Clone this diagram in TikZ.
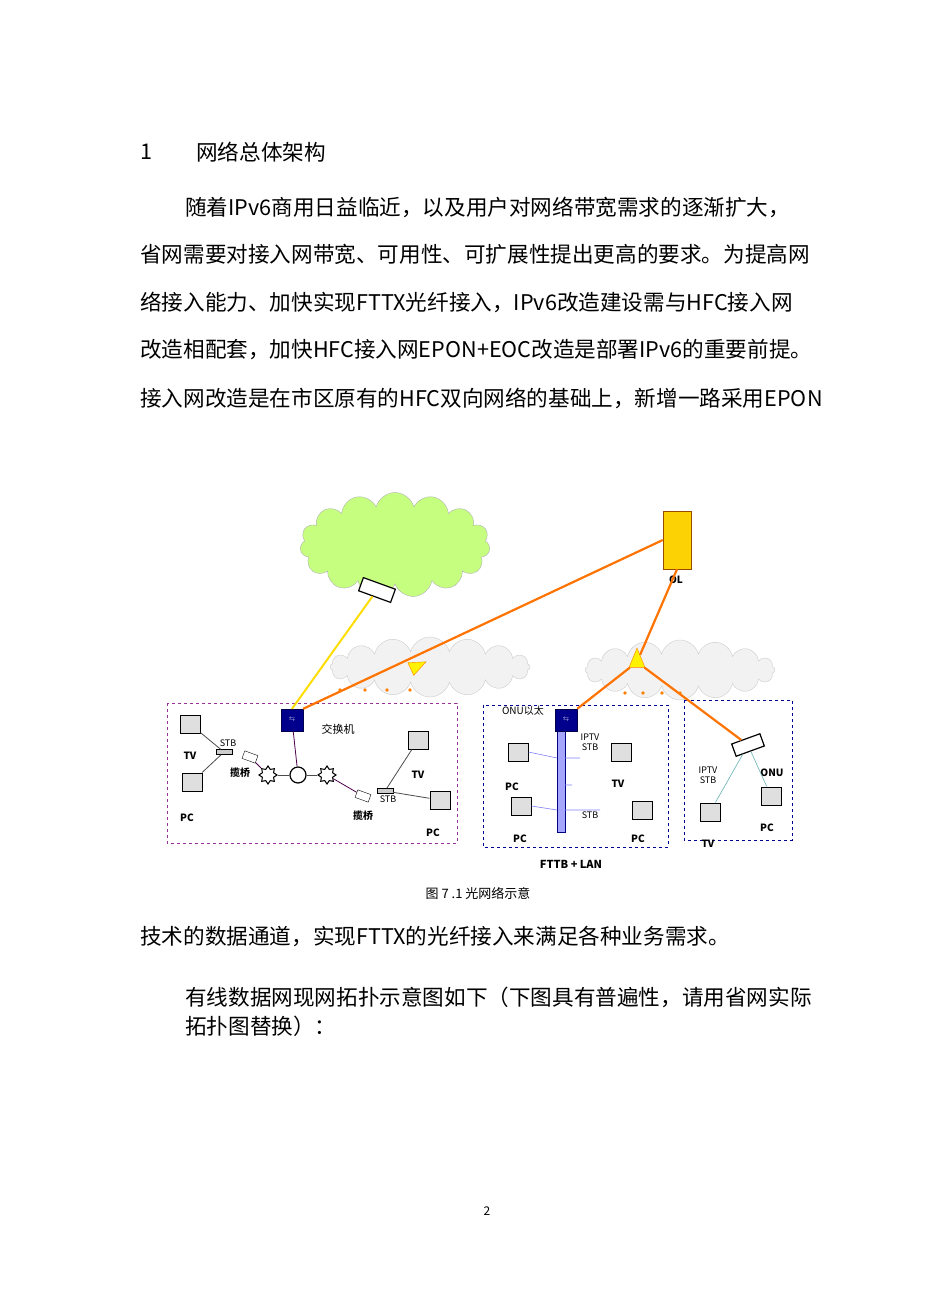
\documentclass[tikz,border=0pt]{standalone}
\usepackage{fontspec}
\setmainfont{Noto Sans CJK SC}
\usetikzlibrary{shapes.symbols,shapes.geometric}
\begin{document}
\begin{tikzpicture}[x=1pt,y=-1pt,
 body/.style={anchor=west,inner sep=0,font=\fontsize{21.6}{22}\selectfont},
 lbl/.style={inner sep=0,font=\fontsize{10}{10}\selectfont\bfseries},
 cloudg/.style={cloud,cloud puffs=16,draw=gray!40,fill=gray!10,inner sep=0,aspect=3},
 mon/.style={draw=black,fill=gray!25,line width=1pt,minimum width=20pt,minimum height=18pt,inner sep=0},
 sw/.style={fill=blue!55!black,minimum size=22pt,inner sep=0,draw=blue!30!black,text=white,font=\tiny,align=center},
 orl/.style={draw=orange!90!red,line width=2.2pt},
 dbox/.style={dashed,line width=1pt},
 thin/.style={draw=black!70,line width=0.8pt}]
\useasboundingbox (0,0) rectangle (950,1316);
\fill[white] (0,0) rectangle (950,1316);
% text
\node[body] (h1) at (140,152) {1};
\node[body] (h2) at (196,152) {网络总体架构};
\node[body] (p1) at (185,207) {随着IPv6商用日益临近，以及用户对网络带宽需求的逐渐扩大，};
\node[body] (p2) at (140,254) {省网需要对接入网带宽、可用性、可扩展性提出更高的要求。为提高网};
\node[body] (p3) at (140,302) {络接入能力、加快实现FTTX光纤接入，IPv6改造建设需与HFC接入网};
\node[body] (p4) at (140,350) {改造相配套，加快HFC接入网EPON+EOC改造是部署IPv6的重要前提。};
\node[body] (p5) at (140,398) {接入网改造是在市区原有的HFC双向网络的基础上，新增一路采用EPON};
\node[body] (p6) at (140,936) {技术的数据通道，实现FTTX的光纤接入来满足各种业务需求。};
\node[body] (p7) at (185,997) {有线数据网现网拓扑示意图如下（下图具有普遍性，请用省网实际};
\node[body] (p8) at (185,1026) {拓扑图替换）：};
\node[inner sep=0,font=\fontsize{12}{12}\selectfont] (pg) at (487,1211) {2};
% clouds
\node[cloud,cloud puffs=15,aspect=1.9,draw=gray!60,fill=green!45!yellow!50,minimum width=190pt,minimum height=105pt,inner sep=0] (gc) at (395,545) {};
\node[cloudg,minimum width=200pt,minimum height=60pt] (c1) at (430,667) {};
\node[cloudg,minimum width=190pt,minimum height=60pt] (c2) at (680,670) {};
% devices
\node[draw,line width=1.2pt,fill=white,minimum width=34pt,minimum height=14pt,rotate=-20,inner sep=0] (rt) at (377,590) {};
\node[draw=orange!60!black,fill=yellow!70!orange,minimum width=28pt,minimum height=58pt,inner sep=0] (olt) at (677,540) {};
\node[lbl] (oltl) at (676,580) {OL};
% boxes
\draw[dbox,draw=violet!80] (167,703) rectangle (457,843);
\draw[dbox,draw=blue!60!black] (483,705) rectangle (668,847);
\draw[dbox,draw=blue!60!black] (684,700) rectangle (792,840);
% switches
\node[sw] (s1) at (292,720) {$\leftarrow$\\[-4pt]$\rightarrow$};
\node[lbl,font=\fontsize{11}{11}\selectfont] (s1l) at (338,729) {交换机};
\fill[blue!35,draw=blue!50!black] (557,728) rectangle (565,832);
\node[sw] (s2) at (566,720) {$\leftarrow$\\[-4pt]$\rightarrow$};
\node[lbl,font=\fontsize{10}{10}\selectfont] (s2l) at (523,711) {ONU以太};
\node[draw,line width=1.2pt,fill=white,minimum width=30pt,minimum height=13pt,rotate=20,inner sep=0] (onu) at (748,745) {};
\node[lbl] (onul) at (772,773) {ONU};
% links
\draw[draw=yellow!80!orange,line width=2pt] (s1.north) -- (rt);
\draw[orl] (s1.north east) -- (olt.west);
\node[isosceles triangle,fill=yellow,draw=orange,minimum size=14pt,inner sep=0,rotate=25] (a1) at (415,667) {};
\node[isosceles triangle,fill=yellow,draw=orange,minimum size=16pt,inner sep=0,rotate=90] (sp) at (637,662) {};
\draw[orl] (olt.south) -- (sp);
\draw[orl] (sp) -- (s2.north east);
\draw[orl] (sp) -- (onu);
\foreach \x in {340,365,387,410} \fill[orange] (\x,690) circle (1.8);
\foreach \x in {625,643,662,680} \fill[orange] (\x,693) circle (1.8);
% left box
\node[mon] (tv1) at (190,724) {};
\node[lbl] (tv1l) at (190,756) {TV};
\node[draw,fill=gray!40,minimum width=16pt,minimum height=5pt,inner sep=0] (stb1) at (224,752) {};
\node[lbl,font=\fontsize{9}{9}\selectfont] (stb1l) at (228,743) {STB};
\node[draw,fill=white,minimum width=14pt,minimum height=8pt,inner sep=0,rotate=-20] (br1) at (250,757) {};
\node[lbl] (br1l) at (240,773) {揽桥};
\node[mon] (pc1) at (192,782) {};
\node[lbl] (pc1l) at (187,818) {PC};
\node[star,star points=8,draw,line width=1pt,minimum size=18pt,inner sep=0] (e1) at (268,775) {};
\node[circle,draw,line width=1.2pt,minimum size=16pt,inner sep=0] (e2) at (298,775) {};
\node[star,star points=8,draw,line width=1pt,minimum size=18pt,inner sep=0] (e3) at (327,775) {};
\node[draw,fill=white,minimum width=14pt,minimum height=8pt,inner sep=0,rotate=-20] (br2) at (363,796) {};
\draw[thin] (tv1) -- (stb1) (pc1) -- (stb1);
\draw[draw=violet!60!black,line width=0.8pt] (br1) -- (e1) (s1) -- (e2) (e3) -- (br2);
\draw[thin] (e1) -- (e2) -- (e3);
\node[lbl] (br2l) at (363,816) {揽桥};
\node[draw,fill=gray!40,minimum width=16pt,minimum height=5pt,inner sep=0] (stb2) at (385,791) {};
\node[lbl,font=\fontsize{9}{9}\selectfont] (stb2l) at (388,799) {STB};
\node[mon] (tv2) at (418,740) {};
\node[lbl] (tv2l) at (418,775) {TV};
\node[mon] (pc2) at (440,800) {};
\node[lbl] (pc2l) at (433,833) {PC};
\draw[thin] (stb2) -- (tv2) (stb2) -- (pc2);
% middle box
\node[mon] (pc3) at (518,752) {};
\node[lbl] (pc3l) at (512,787) {PC};
\node[mon] (pc4) at (521,806) {};
\node[lbl] (pc4l) at (520,839) {PC};
\draw[draw=blue!50,line width=0.6pt] (pc3.east) -- (557,758) (pc4.east) -- (557,810) (565,758) -- (580,758) (565,785) -- (572,785) (565,810) -- (600,810);
\node[lbl,font=\fontsize{9}{10}\selectfont,align=center] (ip1) at (590,742) {IPTV\\STB};
\node[mon] (tv3) at (621,752) {};
\node[lbl] (tv3l) at (618,784) {TV};
\node[lbl,font=\fontsize{9}{9}\selectfont] (stb3l) at (590,815) {STB};
\node[mon] (pc5) at (642,810) {};
\node[lbl] (pc5l) at (638,839) {PC};
% right box
\node[lbl,font=\fontsize{9}{10}\selectfont,align=center] (ip2) at (708,775) {IPTV\\STB};
\node[mon] (tv4) at (710,812) {};
\node[lbl] (tv4l) at (708,844) {TV};
\node[mon] (pc6) at (771,796) {};
\node[lbl] (pc6l) at (767,828) {PC};
\draw[draw=teal!60,line width=0.6pt] (onu) -- (tv4) (onu) -- (pc6);
% captions
\node[inner sep=0,font=\fontsize{11}{11}\selectfont\bfseries] (cap1) at (571,864) {FTTB + LAN};
\node[inner sep=0,font=\fontsize{13}{13}\selectfont] (cap2) at (478,893) {图 7 .1 光网络示意};
\end{tikzpicture}
\end{document}
